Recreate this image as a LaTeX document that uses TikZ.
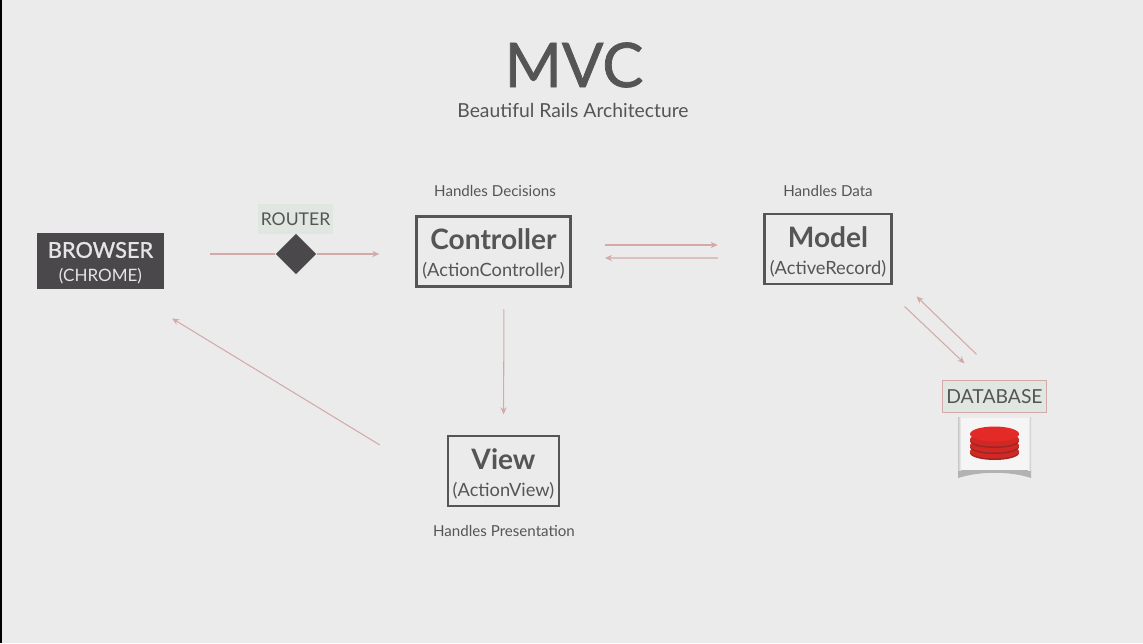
\documentclass[tikz,border=0pt]{standalone}
\usepackage{fontspec}
\setmainfont{Lato}
\newfontfamily\heavyfont[RawFeature={embolden=1.2}]{Lato}
\usepackage{xcolor}
\usetikzlibrary{shapes.geometric,arrows.meta}
\definecolor{slidegray}{RGB}{235,235,235}
\definecolor{inkgray}{RGB}{85,85,85}
\definecolor{boxdark}{RGB}{74,72,75}
\definecolor{linkrose}{RGB}{212,170,168}
\definecolor{tagsage}{RGB}{224,231,224}
\definecolor{diskred}{RGB}{228,42,38}
\definecolor{diskdark}{RGB}{150,40,40}
\newcommand{\boxlabel}[2]{\raisebox{-1.5pt}[\height][\depth]{\shortstack{\fontsize{16}{18}\selectfont\bfseries #1\\[4pt]\fontsize{10.4}{12}\selectfont #2}}}

\begin{document}
\begin{tikzpicture}[
  x=0.02cm, y=-0.02cm,
  mvcbox/.style={rectangle, draw=inkgray, line width=1.5pt, text=inkgray, inner sep=0pt, text centered},
  tag/.style={rectangle, fill=tagsage, text=inkgray, inner sep=0pt, text centered},
  note/.style={text=inkgray, inner sep=0pt, font=\fontsize{8.6}{10}\selectfont},
  link/.style={linkrose, line width=0.6pt},
  arrow/.style={link, -{Stealth[length=4pt,width=3.5pt]}}
]
\useasboundingbox (0,0) rectangle (1143,643);
\fill[slidegray] (0,0) rectangle (1143,643);
\fill[black] (0,0) rectangle (2,643);

% title
\node[text=inkgray, inner sep=0pt, font=\heavyfont\fontsize{35}{40}\selectfont] (title) at (574,65) {MVC};
\node[text=inkgray, inner sep=0pt, font=\fontsize{11}{13}\selectfont] (subtitle) at (573,110) {Beautiful Rails Architecture};

% boxes
\node[rectangle, fill=boxdark, text=white!90!black, inner sep=0pt, text centered, minimum width=72pt, minimum height=32pt] (browser) at (100.5,261)
  {\raisebox{-1.2pt}[\height][\depth]{\shortstack{\heavyfont\fontsize{12.4}{15}\selectfont BROWSER\\[3pt]\fontsize{9.7}{12}\selectfont (CHROME)}}};
\node[tag, minimum width=42.5pt, minimum height=17pt, font=\fontsize{10}{12}\selectfont] (router) at (295.5,219) {ROUTER};
\node[diamond, fill=boxdark, inner sep=0pt, minimum width=23pt, minimum height=23pt] (switch) at (296,254) {};
\node[mvcbox, minimum width=87.5pt, minimum height=40pt] (controller) at (493.5,251.5) {\boxlabel{Controller}{(ActionController)}};
\node[mvcbox, minimum width=72pt, minimum height=40pt] (model) at (828,249) {\boxlabel{Model}{(ActiveRecord)}};
\node[mvcbox, minimum width=63pt, minimum height=40pt] (view) at (503.5,471) {\boxlabel{View}{(ActionView)}};
\node[tag, draw=linkrose, line width=0.4pt, minimum width=59pt, minimum height=18pt, font=\fontsize{11}{13}\selectfont] (database) at (994.5,396.5) {DATABASE};

% notes
\node[note] (decisions) at (495,191) {Handles Decisions};
\node[note] (data) at (828,191) {Handles Data};
\node[note] (presentation) at (504,531) {Handles Presentation};

% database icon
\fill[black!30] (958,470) -- (1031,470) -- (1031,478) .. controls (1010,471) and (980,471) .. (958,478) -- cycle;
\node[rectangle, fill=white!96!black, inner sep=0pt, minimum width=41pt, minimum height=30pt] (icon) at (994.5,444) {};
\shade[left color=black!22, right color=white!96!black] (958,417) rectangle (961,470);
\shade[left color=white!96!black, right color=black!22] (1028,417) rectangle (1031,470);
\foreach \disky in {453,447,441} {
  \fill[diskdark] (994.5,\disky) ellipse[x radius=24.5, y radius=7];
  \fill[diskred!92!black] (994.5,\disky-1.5) ellipse[x radius=24.5, y radius=7];
}
\fill[diskred] (994.5,434) ellipse[x radius=24.5, y radius=7.5];

% links
\draw[link, shorten <=26pt] (browser.east |- switch) -- (switch);
\draw[arrow, shorten >=20.5pt] (switch) -- (controller.west |- switch);
\draw[arrow, shorten <=19pt, shorten >=26pt] ([shift={(0,-6.5)}]controller.east) -- ([shift={(0,-4)}]model.west);
\draw[arrow, shorten <=26pt, shorten >=19pt] ([shift={(0,9)}]model.west) -- ([shift={(0,6.5)}]controller.east);
\draw[arrow, shorten <=12pt, shorten >=11.5pt] ([xshift=6pt]controller.south) -- (view.north);
\draw[arrow] ([shift={(12,21)}]model.south east) -- ([shift={(-30,-17)}]database.north);
\draw[arrow] ([shift={(-18,-26)}]database.north) -- ([shift={(24,11)}]model.south east);
\draw[arrow] ([shift={(-67,-26)}]view.west) -- ([shift={(8,29)}]browser.south east);
\end{tikzpicture}
\end{document}
